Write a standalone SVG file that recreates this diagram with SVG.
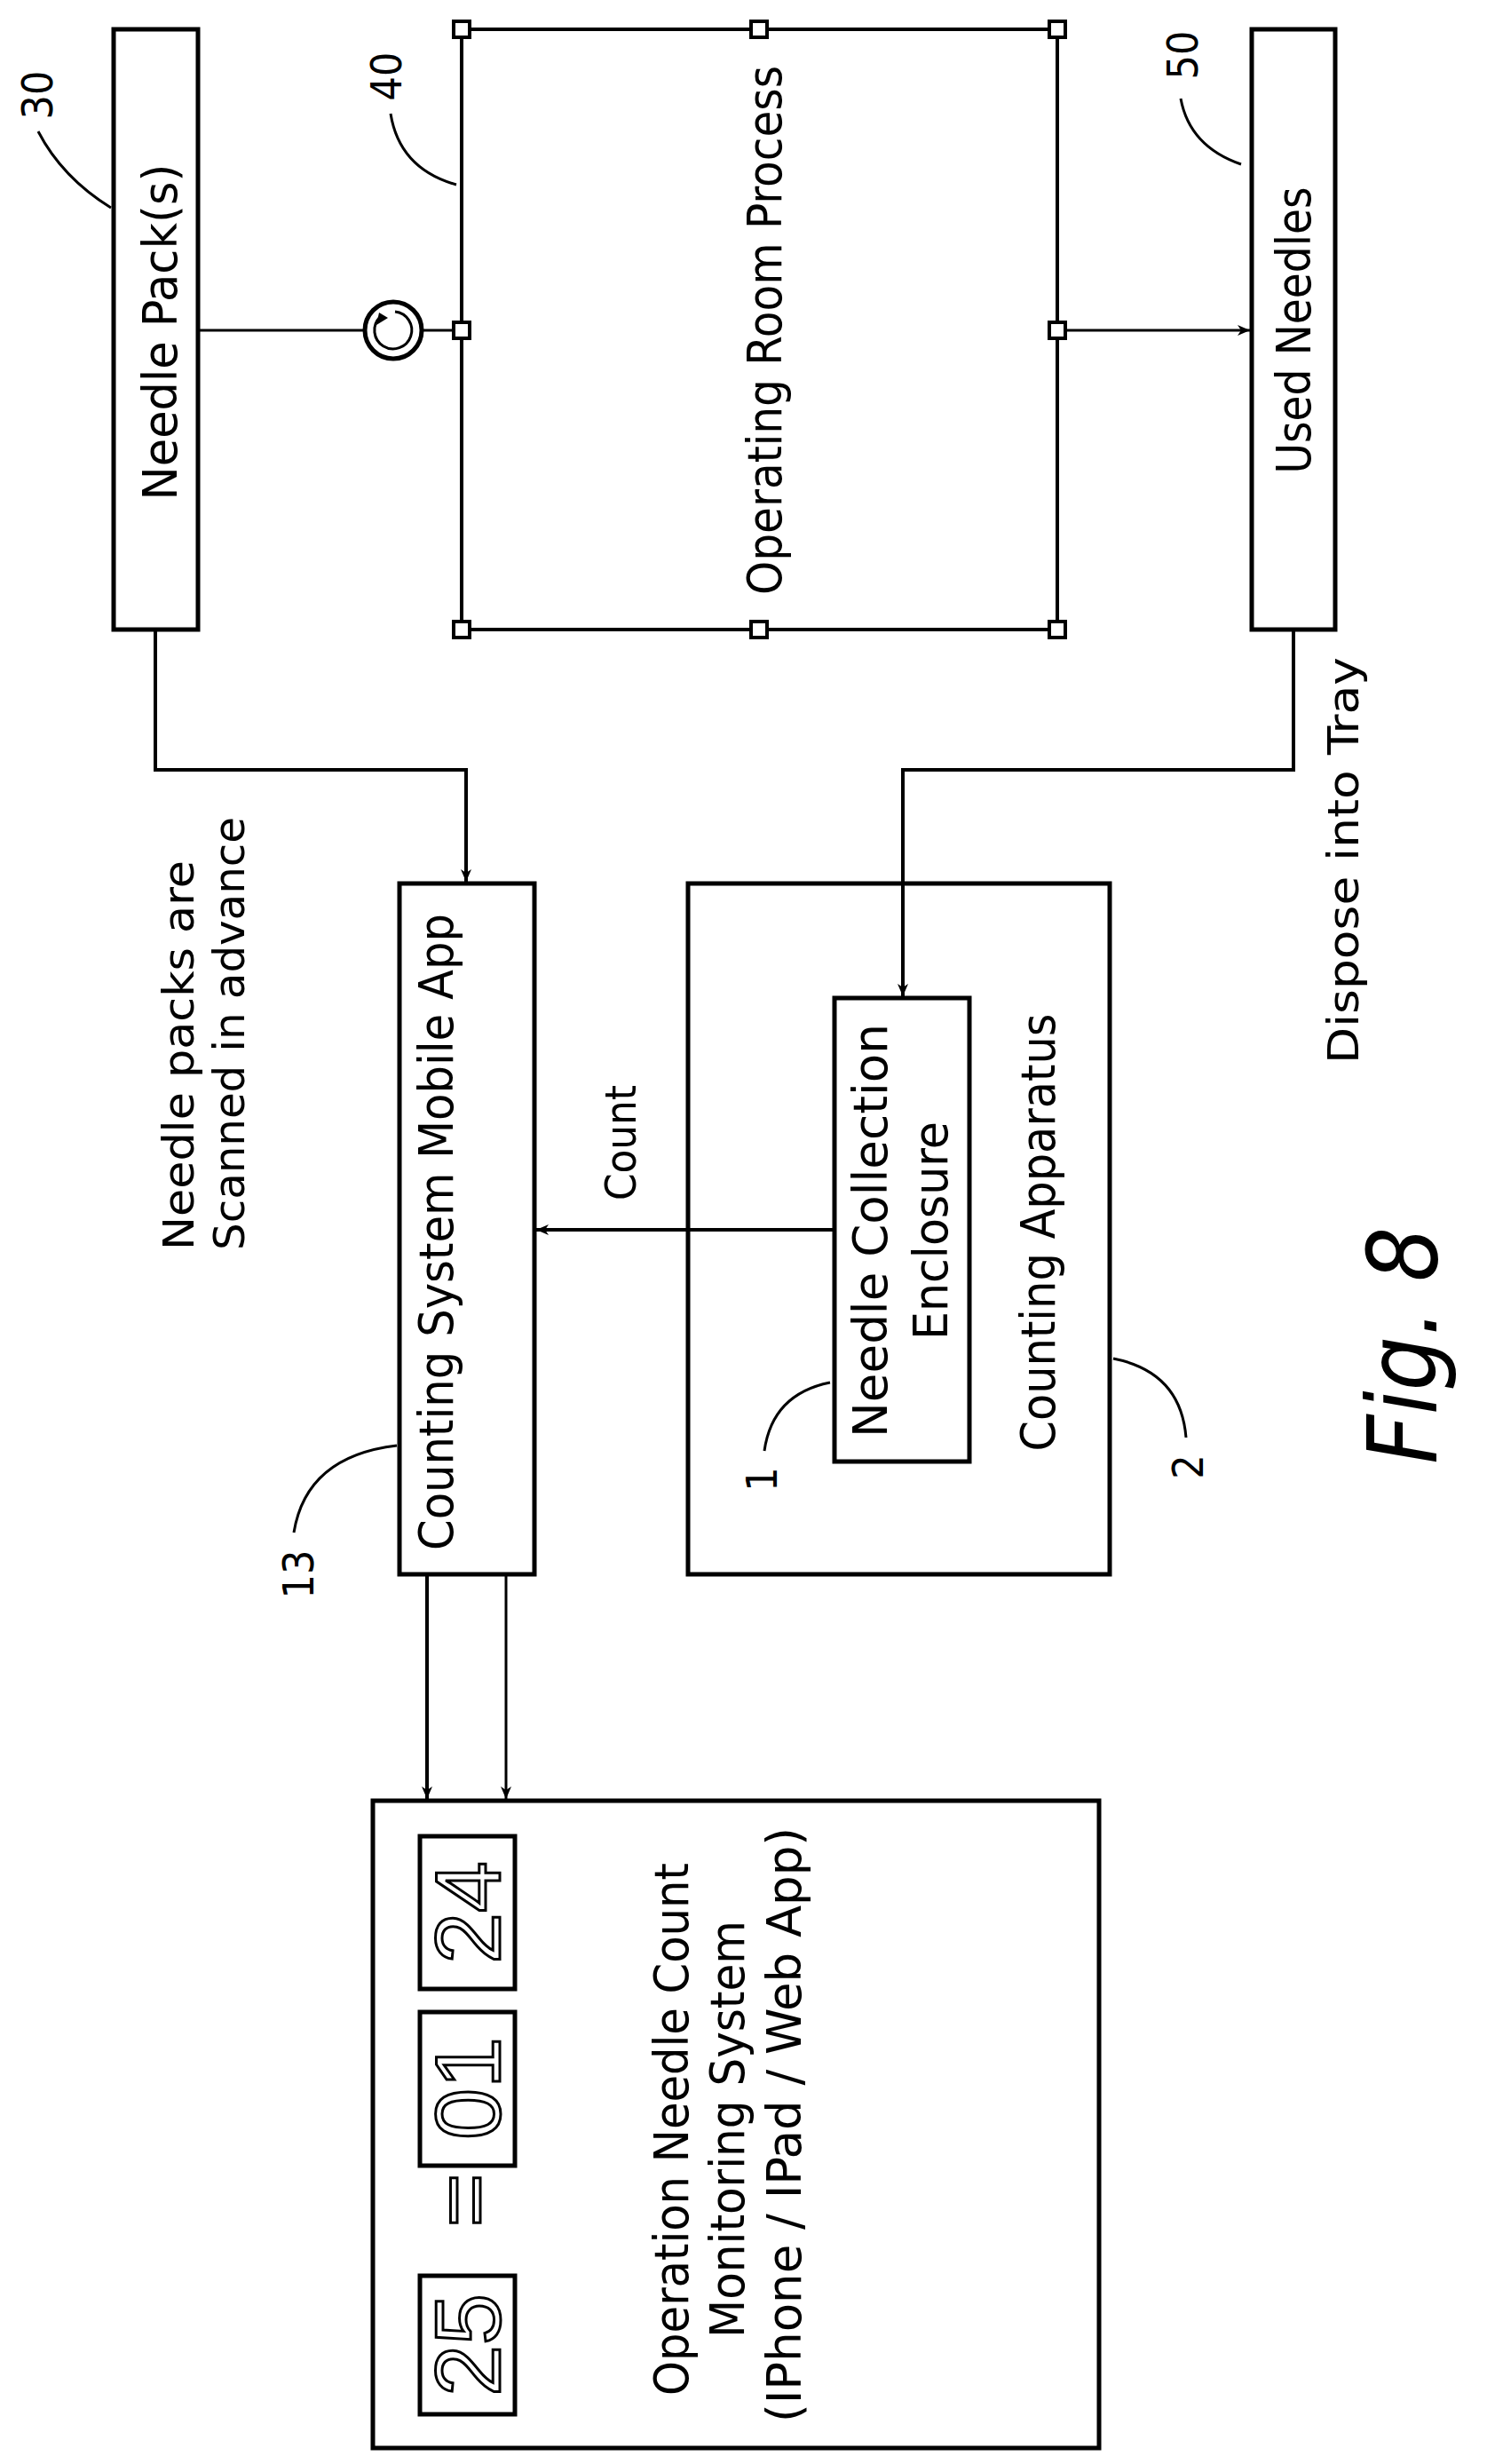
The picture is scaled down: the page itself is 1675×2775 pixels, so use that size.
<svg xmlns="http://www.w3.org/2000/svg" width="1675" height="2775" viewBox="0 0 1675 2775">
<defs>
<marker id="ah" markerWidth="14" markerHeight="12" refX="14" refY="6" orient="auto" markerUnits="userSpaceOnUse"><path d="M0,0 L14,6 L0,12 L4,6 Z" fill="#000"/></marker>
</defs>
<style>
.b{fill:#fff;stroke:#000;stroke-width:5}
.ln{fill:none;stroke:#000;stroke-width:4}
.th{fill:none;stroke:#000;stroke-width:3}
.sq{fill:#fff;stroke:#000;stroke-width:4}
text{font-family:"DejaVu Sans Condensed","DejaVu Sans",sans-serif;fill:#000}
.t{font-size:54px}
.s{font-size:48px}
.d{font-family:"Liberation Sans",sans-serif;font-size:104px;fill:#fff;stroke:#000;stroke-width:3}
</style>
<rect width="1675" height="2775" fill="#fff"/>
<g id="needle-pack">
<rect class="b" x="128" y="33" width="95" height="676"/>
<text class="t" transform="translate(199,374) rotate(-90)" text-anchor="middle" textLength="379" lengthAdjust="spacingAndGlyphs">Needle Pack(s)</text>
<text class="s" transform="translate(59,107) rotate(-90)" text-anchor="middle">30</text>
</g>
<g id="or-process">
<rect class="ln" x="520" y="33" width="671" height="676" stroke-width="5"/>
<text class="t" transform="translate(880,372) rotate(-90)" text-anchor="middle" textLength="596" lengthAdjust="spacingAndGlyphs">Operating Room Process</text>
<text class="s" transform="translate(452,86) rotate(-90)" text-anchor="middle">40</text>
</g>
<g id="used-needles">
<rect class="b" x="1410" y="33" width="94" height="676"/>
<text class="t" transform="translate(1476,372) rotate(-90)" text-anchor="middle" textLength="323" lengthAdjust="spacingAndGlyphs">Used Needles</text>
<text class="s" transform="translate(1349,62) rotate(-90)" text-anchor="middle">50</text>
</g>
<g id="scan-note">
<text class="s" transform="translate(218,1408) rotate(-90)" textLength="439" lengthAdjust="spacingAndGlyphs">Needle packs are</text>
<text class="s" transform="translate(275,1408) rotate(-90)" textLength="488" lengthAdjust="spacingAndGlyphs">Scanned in advance</text>
</g>
<g id="mobile-app">
<rect class="b" x="450" y="995" width="152" height="778"/>
<text class="t" transform="translate(510,1746) rotate(-90)" textLength="717" lengthAdjust="spacingAndGlyphs">Counting System Mobile App</text>
<text class="s" transform="translate(353,1773) rotate(-90)" text-anchor="middle">13</text>
</g>
<g id="count-label">
<text class="s" transform="translate(716,1287) rotate(-90)" text-anchor="middle" textLength="130" lengthAdjust="spacingAndGlyphs">Count</text>
</g>
<g id="counting-apparatus">
<rect class="b" x="775" y="995" width="475" height="778"/>
<text class="t" transform="translate(1188,1388) rotate(-90)" text-anchor="middle" textLength="493" lengthAdjust="spacingAndGlyphs">Counting Apparatus</text>
<text class="s" transform="translate(1355,1652) rotate(-90)" text-anchor="middle">2</text>
</g>
<g id="enclosure">
<rect class="b" x="940" y="1124" width="152" height="522"/>
<text class="t" transform="translate(999,1386) rotate(-90)" text-anchor="middle" textLength="466" lengthAdjust="spacingAndGlyphs">Needle Collection</text>
<text class="t" transform="translate(1067,1386) rotate(-90)" text-anchor="middle" textLength="246" lengthAdjust="spacingAndGlyphs">Enclosure</text>
<text class="s" transform="translate(875,1666) rotate(-90)" text-anchor="middle">1</text>
</g>
<g id="dispose-note">
<text class="s" transform="translate(1530,1198) rotate(-90)" textLength="458" lengthAdjust="spacingAndGlyphs">Dispose into Tray</text>
</g>
<g id="monitor">
<rect class="b" x="420" y="2028" width="818" height="729"/>
<rect class="b" x="473" y="2068" width="107" height="172"/>
<rect class="b" x="473" y="2266" width="107" height="173"/>
<rect class="b" x="473" y="2563" width="107" height="156"/>
<text class="d" transform="translate(563,2154) rotate(-90)" text-anchor="middle">24</text>
<text class="d" transform="translate(563,2352) rotate(-90)" text-anchor="middle">01</text>
<text class="d" transform="translate(563,2641) rotate(-90)" text-anchor="middle">25</text>
<text class="d" transform="translate(558,2478) rotate(-90)" text-anchor="middle">=</text>
<text class="t" transform="translate(775,2398) rotate(-90)" text-anchor="middle" textLength="600" lengthAdjust="spacingAndGlyphs">Operation Needle Count</text>
<text class="t" transform="translate(838,2398) rotate(-90)" text-anchor="middle" textLength="470" lengthAdjust="spacingAndGlyphs">Monitoring System</text>
<text class="t" transform="translate(902,2393) rotate(-90)" text-anchor="middle" textLength="670" lengthAdjust="spacingAndGlyphs">(IPhone / IPad / Web App)</text>
</g>
<g id="fig-label">
<text transform="translate(1618,1649) rotate(-90)" font-size="108" font-style="italic" textLength="267" lengthAdjust="spacingAndGlyphs">Fig. 8</text>
</g>
<g id="connectors">
<path class="th" d="M223,372 H411 M475,372 H520"/>
<path class="th" d="M1191,372 H1408" marker-end="url(#ah)"/>
<path class="ln" d="M175,709 V867 H525 V993" marker-end="url(#ah)"/>
<path class="ln" d="M1457,709 V867 H1017 V1122" marker-end="url(#ah)"/>
<path class="ln" d="M940,1385 H604" marker-end="url(#ah)"/>
<path class="ln" d="M481,1773 V2026" marker-end="url(#ah)"/>
<path class="th" d="M570,1773 V2026" marker-end="url(#ah)"/>
<path class="th" d="M125,234 Q70,200 43,148"/>
<path class="th" d="M514,208 Q450,190 440,128"/>
<path class="th" d="M1398,185 Q1340,165 1330,111"/>
<path class="th" d="M447,1628 Q345,1640 331,1726"/>
<path class="th" d="M935,1557 Q870,1570 861,1634"/>
<path class="th" d="M1254,1530 Q1330,1545 1336,1619"/>
</g>
<g id="scan-symbol">
<circle cx="443" cy="372" r="32" fill="#fff" stroke="#000" stroke-width="5"/>
<path d="M428,357 A21,21 0 1 0 445,351" fill="none" stroke="#000" stroke-width="3"/>
<path d="M424,366 L427,352 L437,358 Z" fill="#000"/>
</g>
<g id="or-handles">
<rect class="sq" x="511" y="24" width="18" height="18"/>
<rect class="sq" x="846" y="24" width="18" height="18"/>
<rect class="sq" x="1182" y="24" width="18" height="18"/>
<rect class="sq" x="511" y="700" width="18" height="18"/>
<rect class="sq" x="846" y="700" width="18" height="18"/>
<rect class="sq" x="1182" y="700" width="18" height="18"/>
<rect class="sq" x="511" y="363" width="18" height="18"/>
<rect class="sq" x="1182" y="363" width="18" height="18"/>
</g>
</svg>
